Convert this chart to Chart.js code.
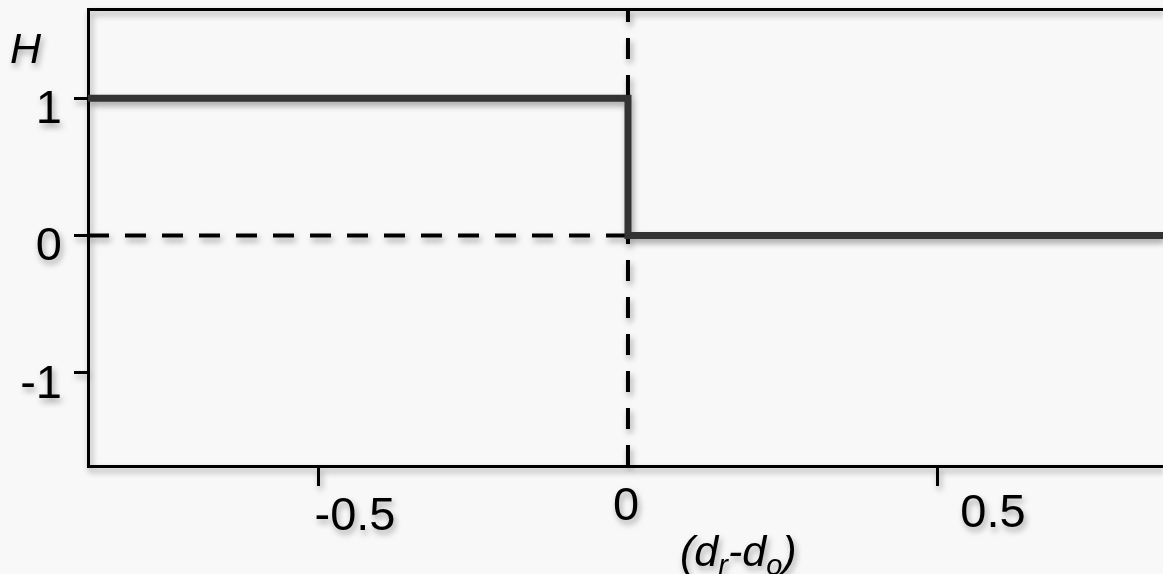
<html>
	<head>
		<script src="https://cdn.jsdelivr.net/npm/chart.js@4.4.1/dist/chart.umd.min.js"></script>
		<style>
			body {
				margin: 0;
				background: #f8f8f8;
				overflow: hidden;
			}
			#stepChart {
				display: block;
				filter: drop-shadow(2px 4px 3px rgba(0, 0, 0, 0.35));
			}
		</style>
	</head>
	<body>
		<canvas id="stepChart" width="1163" height="574"></canvas>
	</body>
	<script>
		// Data
		const xRange = [-0.871, 0.863];
		const hRange = [-1.68, 1.65];
		const stepX = [-0.871, 0, 0, 0.863];
		const stepH = [1, 1, 0, 0];
		const zeroLineX = [-0.871, 0];
		const xTicks = [-0.5, 0, 0.5];
		const xTickLabels = ['-0.5', '0', '0.5'];
		const hTicks = [-1, 0, 1];
		const hTickLabels = ['-1', '0', '1'];

		// hand-placed label nudges (the original labels sit off their ticks)
		const xLabelShift = [37, -2, 55];
		const xLabelDrop = [64, 54, 61];

		const FONT = "'Liberation Sans', Arial, sans-serif";

		const pts = (xs, ys) => xs.map((x, i) => ({x: x, y: ys[i]}));

		// Text the axes can't draw on their own: H, x labels, (dr-do)
		const textPlugin = {
			id: 'textPlugin',
			afterDraw(chart) {
				const ctx = chart.ctx;
				const xs = chart.scales.x;
				const area = chart.chartArea;
				ctx.save();
				ctx.fillStyle = '#000';

				ctx.font = 'italic 43px ' + FONT;
				ctx.textAlign = 'left';
				ctx.textBaseline = 'alphabetic';
				ctx.fillText('H', 10, 63);

				ctx.font = '47px ' + FONT;
				ctx.textAlign = 'center';
				xTicks.forEach((v, i) => {
					ctx.fillText(xTickLabels[i], xs.getPixelForValue(v) + xLabelShift[i], area.bottom + xLabelDrop[i]);
				});

				// (d_r-d_o)
				let x = 680, y = 566;
				ctx.textAlign = 'left';
				const big = 'italic 43px ' + FONT, small = 'italic 29px ' + FONT;
				const parts = [['(', big, 0], ['d', big, 0], ['r', small, 9], ['-d', big, 0], ['o', small, 9], [')', big, 0]];
				parts.forEach(p => {
					ctx.font = p[1];
					ctx.fillText(p[0], x, y + p[2]);
					x += ctx.measureText(p[0]).width;
				});
				ctx.restore();
			}
		};

		var ctx = document.getElementById('stepChart').getContext('2d');
		var stepChart = new Chart(ctx, {
			type: 'scatter',
			data: {
				datasets: [
					{
						label: 'H',
						data: pts(stepX, stepH),
						showLine: true,
						borderColor: '#333333',
						borderWidth: 7,
						borderJoinStyle: 'miter',
						pointRadius: 0
					},
					{
						label: 'zero',
						data: pts(zeroLineX, [0, 0]),
						showLine: true,
						borderColor: '#000000',
						borderWidth: 4,
						borderDash: [21, 16],
						pointRadius: 0
					},
					{
						label: 'origin',
						data: pts([0, 0], hRange),
						showLine: true,
						borderColor: '#000000',
						borderWidth: 4,
						borderDash: [21, 16],
						pointRadius: 0
					}
				]
			},
			options: {
				responsive: false,
				animation: false,
				events: [],
				layout: {padding: 0},
				plugins: {
					legend: {display: false},
					tooltip: {enabled: false}
				},
				scales: {
					x: {
						type: 'linear',
						position: 'bottom',
						min: xRange[0],
						max: xRange[1],
						afterBuildTicks: s => { s.ticks = xTicks.map(v => ({value: v})); },
						afterFit: s => { s.height = 108; s.paddingLeft = 0; s.paddingRight = 0; },
						border: {display: true, color: '#000', width: 3},
						grid: {
							drawOnChartArea: false,
							drawTicks: true,
							tickLength: 20,
							tickWidth: 3,
							tickColor: c => (c.tick && c.tick.value === 0) ? 'rgba(0,0,0,0)' : '#000'
						},
						ticks: {display: false}
					},
					xTop: {
						type: 'linear',
						position: 'top',
						min: xRange[0],
						max: xRange[1],
						afterFit: s => { s.height = 9; s.paddingLeft = 0; s.paddingRight = 0; },
						border: {display: true, color: '#000', width: 3},
						grid: {display: false},
						ticks: {display: false}
					},
					y: {
						type: 'linear',
						position: 'left',
						min: hRange[0],
						max: hRange[1],
						afterBuildTicks: s => { s.ticks = hTicks.map(v => ({value: v})); },
						afterFit: s => { s.width = 88; s.paddingTop = 0; s.paddingBottom = 0; },
						border: {display: true, color: '#000', width: 3},
						grid: {
							drawOnChartArea: false,
							drawTicks: true,
							tickLength: 14,
							tickWidth: 3,
							tickColor: '#000'
						},
						ticks: {
							color: '#000',
							font: {family: FONT, size: 47},
							padding: 12,
							labelOffset: 12,
							callback: v => hTickLabels[hTicks.indexOf(v)]
						}
					}
				}
			},
			plugins: [textPlugin]
		});
	</script>
</html>
